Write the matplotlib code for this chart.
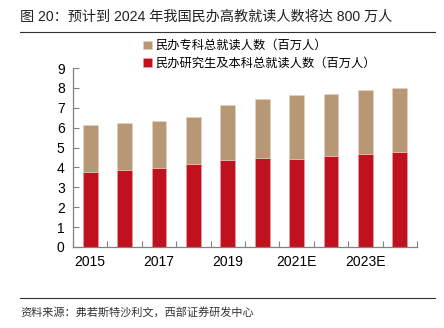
import numpy as np
import matplotlib.pyplot as plt

plt.rcParams['font.family'] = ['Liberation Sans', 'Noto Sans CJK SC', 'DejaVu Sans']

years = ['2015', '2016', '2017', '2018', '2019', '2020', '2021E', '2022E', '2023E', '2024E']
undergrad = [3.77, 3.87, 3.96, 4.17, 4.37, 4.46, 4.44, 4.56, 4.66, 4.76]   # 研究生及本科
total = [6.13, 6.24, 6.32, 6.52, 7.13, 7.42, 7.63, 7.71, 7.91, 8.01]
college = [t - u for t, u in zip(total, undergrad)]                     # 专科

tan = '#B89774'
red = '#C1101E'
grey = '#808080'

fig = plt.figure(figsize=(4.44, 3.28), dpi=100)
ax = fig.add_axes([73/444, 1 - 247/328, 344/444, 179/328])

x = np.arange(len(years))
b1 = ax.bar(x, undergrad, width=0.43, color=red, edgecolor='#E8A0A6', linewidth=0.4,
            label='民办研究生及本科总就读人数（百万人）')
b2 = ax.bar(x, college, bottom=undergrad, width=0.43, color=tan, edgecolor='#E4D4C4',
            linewidth=0.4, label='民办专科总就读人数（百万人）')

ax.set_xlim(-0.5, len(years) - 0.5)
ax.set_ylim(0, 9)
ax.set_yticks(range(10))
ax.set_xticks(x[::2])
ax.set_xticklabels(years[::2])
ax.set_xticks(np.arange(-0.5, len(years), 1), minor=True)
ax.tick_params(axis='x', which='major', length=0, pad=6, labelsize=10)
ax.tick_params(axis='x', which='minor', direction='in', length=4, color=grey, width=0.8)
ax.tick_params(axis='y', direction='in', length=4, color=grey, width=0.8, labelsize=10, pad=6)

for s in ['top', 'right']:
    ax.spines[s].set_visible(False)
for s in ['left', 'bottom']:
    ax.spines[s].set_color(grey)
    ax.spines[s].set_linewidth(0.9)

leg = ax.legend(handles=[b2, b1], loc='upper left', bbox_to_anchor=(0.19, 1.183),
                frameon=False, fontsize=8.8, handlelength=0.7, handleheight=0.7,
                handletextpad=0.3, labelspacing=0.45, borderaxespad=0)

fig.text(20/444, 1 - 17/328, '图 20：预计到 2024 年我国民办高教就读人数将达 800 万人',
         fontsize=10.2, va='center', ha='left', color='#222222')
fig.add_artist(plt.Line2D([20/444, 435/444], [1 - 32/328, 1 - 32/328], color='#333333', lw=0.8))
fig.add_artist(plt.Line2D([20/444, 435/444], [1 - 298/328, 1 - 298/328], color='#333333', lw=0.8))
fig.text(20/444, 1 - 313/328, '资料来源：弗若斯特沙利文，西部证券研发中心',
         fontsize=8, va='center', ha='left', color='#333333')

fig.savefig('out.png', dpi=100)
